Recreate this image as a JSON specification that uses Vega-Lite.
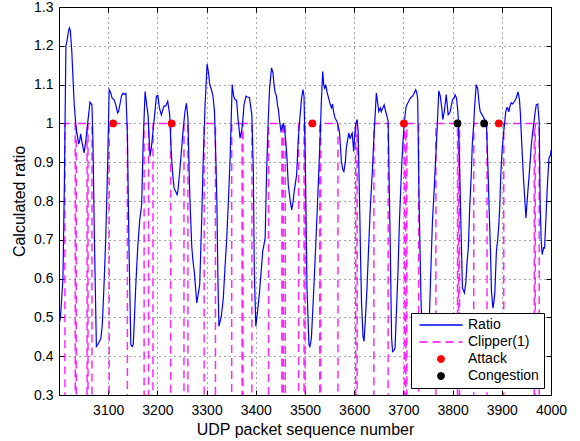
{
  "$schema": "https://vega.github.io/schema/vega-lite/v6.json",
  "width": 492,
  "height": 388,
  "autosize": {"type": "none"},
  "padding": {"left": 59, "top": 7, "right": 29, "bottom": 46},
  "background": "white",
  "config": {
    "font": "Liberation Sans",
    "view": {"stroke": "black", "strokeWidth": 1},
    "axis": {
      "labelFont": "Liberation Sans", "labelFontSize": 14, "labelColor": "#000", "labelFlush": false,
      "titleFont": "Liberation Sans", "titleFontSize": 16, "titleFontWeight": "normal", "titleColor": "#000",
      "domainColor": "#000", "tickColor": "#000", "gridColor": "#000", "gridDash": [1, 4], "gridOpacity": 0.7
    }
  },
  "datasets": {
    "ratio": [
      {"x":3000,"y":0.48},{"x":3003,"y":0.5},{"x":3008,"y":0.6},{"x":3011,"y":0.85},{"x":3014,"y":1.2},{"x":3016,"y":1.21},{"x":3019,"y":1.235},{"x":3021,"y":1.246},{"x":3023,"y":1.24},{"x":3026,"y":1.186},{"x":3029,"y":1.1},{"x":3031,"y":1.048},{"x":3034,"y":1.0},{"x":3036,"y":0.979},{"x":3040,"y":0.947},{"x":3042,"y":0.955},{"x":3044,"y":0.973},{"x":3047,"y":0.95},{"x":3051,"y":0.924},{"x":3054,"y":0.95},{"x":3058,"y":0.997},{"x":3063,"y":1.055},{"x":3067,"y":1.048},{"x":3069,"y":0.954},{"x":3072,"y":0.7},{"x":3076,"y":0.425},{"x":3079,"y":0.43},{"x":3082,"y":0.438},{"x":3085,"y":0.445},{"x":3088,"y":0.481},{"x":3092,"y":0.6},{"x":3095,"y":0.705},{"x":3099,"y":0.9},{"x":3102,"y":1.087},{"x":3105,"y":1.08},{"x":3108,"y":1.065},{"x":3112,"y":1.061},{"x":3116,"y":1.045},{"x":3119,"y":1.027},{"x":3121,"y":1.03},{"x":3124,"y":1.05},{"x":3127,"y":1.07},{"x":3130,"y":1.078},{"x":3133,"y":1.075},{"x":3136,"y":1.077},{"x":3139,"y":0.971},{"x":3142,"y":0.7},{"x":3146,"y":0.43},{"x":3149,"y":0.425},{"x":3151,"y":0.43},{"x":3156,"y":0.58},{"x":3160,"y":0.68},{"x":3164,"y":0.75},{"x":3168,"y":0.79},{"x":3171,"y":0.95},{"x":3175,"y":1.082},{"x":3178,"y":1.05},{"x":3181,"y":1.022},{"x":3185,"y":0.915},{"x":3188,"y":0.94},{"x":3191,"y":0.979},{"x":3195,"y":1.03},{"x":3198,"y":1.07},{"x":3201,"y":1.072},{"x":3204,"y":1.04},{"x":3208,"y":1.022},{"x":3211,"y":1.035},{"x":3213,"y":1.044},{"x":3217,"y":1.045},{"x":3221,"y":1.057},{"x":3225,"y":1.022},{"x":3228,"y":0.928},{"x":3231,"y":0.87},{"x":3234,"y":0.833},{"x":3237,"y":0.825},{"x":3240,"y":0.816},{"x":3242,"y":0.829},{"x":3247,"y":0.9},{"x":3252,"y":0.979},{"x":3256,"y":1.03},{"x":3259,"y":1.052},{"x":3262,"y":1.014},{"x":3265,"y":0.85},{"x":3267,"y":0.773},{"x":3270,"y":0.68},{"x":3272,"y":0.649},{"x":3275,"y":0.618},{"x":3278,"y":0.57},{"x":3280,"y":0.537},{"x":3283,"y":0.56},{"x":3286,"y":0.584},{"x":3290,"y":0.75},{"x":3293,"y":0.902},{"x":3297,"y":1.05},{"x":3301,"y":1.153},{"x":3304,"y":1.13},{"x":3306,"y":1.104},{"x":3309,"y":1.09},{"x":3311,"y":1.081},{"x":3313,"y":1.07},{"x":3316,"y":1.031},{"x":3319,"y":0.9},{"x":3321,"y":0.79},{"x":3323,"y":0.6},{"x":3325,"y":0.477},{"x":3330,"y":0.503},{"x":3334,"y":0.55},{"x":3337,"y":0.62},{"x":3341,"y":0.705},{"x":3345,"y":0.82},{"x":3348,"y":0.919},{"x":3352,"y":1.1},{"x":3355,"y":1.07},{"x":3358,"y":1.061},{"x":3361,"y":1.06},{"x":3364,"y":1.01},{"x":3368,"y":0.962},{"x":3371,"y":0.98},{"x":3373,"y":0.997},{"x":3376,"y":1.048},{"x":3380,"y":1.07},{"x":3383,"y":1.068},{"x":3387,"y":1.067},{"x":3392,"y":1.022},{"x":3395,"y":0.876},{"x":3397,"y":0.619},{"x":3400,"y":0.477},{"x":3404,"y":0.52},{"x":3407,"y":0.558},{"x":3411,"y":0.62},{"x":3414,"y":0.67},{"x":3417,"y":0.69},{"x":3419,"y":0.705},{"x":3422,"y":0.876},{"x":3425,"y":1.0},{"x":3428,"y":1.091},{"x":3432,"y":1.143},{"x":3435,"y":1.13},{"x":3437,"y":1.1},{"x":3439,"y":1.082},{"x":3442,"y":1.07},{"x":3444,"y":1.048},{"x":3446,"y":1.035},{"x":3448,"y":1.01},{"x":3451,"y":0.981},{"x":3454,"y":0.99},{"x":3456,"y":1.001},{"x":3459,"y":0.98},{"x":3461,"y":0.95},{"x":3463,"y":0.919},{"x":3466,"y":0.842},{"x":3470,"y":0.8},{"x":3473,"y":0.777},{"x":3476,"y":0.8},{"x":3478,"y":0.825},{"x":3481,"y":0.85},{"x":3483,"y":0.868},{"x":3486,"y":0.95},{"x":3489,"y":1.005},{"x":3493,"y":1.065},{"x":3496,"y":1.087},{"x":3498,"y":1.07},{"x":3501,"y":0.876},{"x":3504,"y":0.576},{"x":3508,"y":0.43},{"x":3510,"y":0.425},{"x":3513,"y":0.447},{"x":3517,"y":0.55},{"x":3521,"y":0.662},{"x":3525,"y":0.78},{"x":3528,"y":0.876},{"x":3531,"y":0.97},{"x":3533,"y":1.048},{"x":3536,"y":1.134},{"x":3538,"y":1.1},{"x":3540,"y":1.091},{"x":3542,"y":1.1},{"x":3545,"y":1.08},{"x":3548,"y":1.065},{"x":3551,"y":1.05},{"x":3554,"y":1.04},{"x":3556,"y":1.05},{"x":3558,"y":1.03},{"x":3561,"y":1.014},{"x":3565,"y":1.005},{"x":3570,"y":0.979},{"x":3574,"y":0.902},{"x":3577,"y":0.88},{"x":3579,"y":0.876},{"x":3582,"y":0.9},{"x":3584,"y":0.937},{"x":3587,"y":0.96},{"x":3589,"y":0.975},{"x":3592,"y":0.96},{"x":3594,"y":0.97},{"x":3596,"y":0.975},{"x":3599,"y":0.928},{"x":3601,"y":0.97},{"x":3603,"y":0.997},{"x":3606,"y":1.01},{"x":3608,"y":0.98},{"x":3611,"y":0.79},{"x":3613,"y":0.65},{"x":3615,"y":0.533},{"x":3618,"y":0.45},{"x":3620,"y":0.438},{"x":3623,"y":0.5},{"x":3626,"y":0.576},{"x":3630,"y":0.7},{"x":3633,"y":0.79},{"x":3637,"y":0.88},{"x":3640,"y":0.962},{"x":3645,"y":1.078},{"x":3648,"y":1.05},{"x":3650,"y":1.031},{"x":3653,"y":1.04},{"x":3655,"y":1.03},{"x":3658,"y":1.04},{"x":3661,"y":1.048},{"x":3664,"y":1.03},{"x":3666,"y":1.022},{"x":3669,"y":1.005},{"x":3673,"y":0.705},{"x":3676,"y":0.447},{"x":3678,"y":0.412},{"x":3681,"y":0.415},{"x":3683,"y":0.421},{"x":3686,"y":0.52},{"x":3689,"y":0.619},{"x":3692,"y":0.75},{"x":3696,"y":0.876},{"x":3699,"y":0.95},{"x":3702,"y":1.005},{"x":3705,"y":1.04},{"x":3707,"y":1.048},{"x":3710,"y":1.055},{"x":3714,"y":1.065},{"x":3718,"y":1.07},{"x":3721,"y":1.075},{"x":3725,"y":1.087},{"x":3727,"y":1.08},{"x":3729,"y":1.065},{"x":3732,"y":0.79},{"x":3736,"y":0.533},{"x":3740,"y":0.42},{"x":3744,"y":0.38},{"x":3748,"y":0.4},{"x":3753,"y":0.507},{"x":3756,"y":0.63},{"x":3759,"y":0.747},{"x":3763,"y":0.84},{"x":3766,"y":0.919},{"x":3769,"y":1.0},{"x":3772,"y":1.084},{"x":3775,"y":1.07},{"x":3778,"y":1.04},{"x":3780,"y":1.01},{"x":3783,"y":1.03},{"x":3785,"y":1.05},{"x":3787,"y":1.074},{"x":3789,"y":1.05},{"x":3791,"y":1.022},{"x":3793,"y":1.025},{"x":3795,"y":1.03},{"x":3798,"y":1.05},{"x":3800,"y":1.061},{"x":3803,"y":1.065},{"x":3805,"y":1.074},{"x":3808,"y":1.065},{"x":3810,"y":1.04},{"x":3812,"y":1.005},{"x":3814,"y":0.9},{"x":3816,"y":0.79},{"x":3818,"y":0.68},{"x":3820,"y":0.576},{"x":3824,"y":0.563},{"x":3827,"y":0.59},{"x":3829,"y":0.636},{"x":3832,"y":0.68},{"x":3835,"y":0.79},{"x":3838,"y":0.87},{"x":3840,"y":0.945},{"x":3843,"y":1.0},{"x":3845,"y":1.048},{"x":3848,"y":1.1},{"x":3851,"y":1.09},{"x":3854,"y":1.05},{"x":3856,"y":1.031},{"x":3860,"y":1.022},{"x":3863,"y":1.015},{"x":3865,"y":1.01},{"x":3869,"y":0.99},{"x":3872,"y":0.88},{"x":3874,"y":0.79},{"x":3877,"y":0.67},{"x":3879,"y":0.567},{"x":3882,"y":0.524},{"x":3884,"y":0.54},{"x":3886,"y":0.567},{"x":3889,"y":0.67},{"x":3892,"y":0.705},{"x":3894,"y":0.74},{"x":3896,"y":0.79},{"x":3898,"y":0.87},{"x":3901,"y":0.937},{"x":3904,"y":0.98},{"x":3906,"y":1.005},{"x":3908,"y":1.03},{"x":3910,"y":1.04},{"x":3912,"y":1.04},{"x":3914,"y":1.03},{"x":3917,"y":1.045},{"x":3919,"y":1.053},{"x":3922,"y":1.05},{"x":3926,"y":1.057},{"x":3929,"y":1.065},{"x":3933,"y":1.081},{"x":3936,"y":1.06},{"x":3938,"y":1.02},{"x":3940,"y":0.962},{"x":3942,"y":0.91},{"x":3944,"y":0.859},{"x":3947,"y":0.8},{"x":3949,"y":0.756},{"x":3951,"y":0.79},{"x":3953,"y":0.825},{"x":3957,"y":0.89},{"x":3960,"y":0.945},{"x":3963,"y":0.98},{"x":3966,"y":1.01},{"x":3968,"y":1.03},{"x":3970,"y":1.048},{"x":3973,"y":1.05},{"x":3976,"y":1.005},{"x":3978,"y":0.79},{"x":3980,"y":0.7},{"x":3982,"y":0.662},{"x":3985,"y":0.68},{"x":3987,"y":0.679},{"x":3990,"y":0.765},{"x":3993,"y":0.85},{"x":3996,"y":0.911},{"x":3999,"y":0.919},{"x":4000,"y":0.93}
    ],
    "clipper": [
      {"i":0,"x":3000,"y":0},{"i":1,"x":3012,"y":0},{"i":2,"x":3012,"y":1},{"i":3,"x":3033,"y":1},{"i":4,"x":3033,"y":0},{"i":5,"x":3035,"y":0},{"i":6,"x":3035,"y":1},{"i":7,"x":3057,"y":1},{"i":8,"x":3057,"y":0},{"i":9,"x":3059,"y":0},{"i":10,"x":3059,"y":1},{"i":11,"x":3067,"y":1},{"i":12,"x":3067,"y":0},
      {"i":13,"x":3102,"y":0},{"i":14,"x":3102,"y":1},{"i":15,"x":3139,"y":1},{"i":16,"x":3139,"y":0},
      {"i":17,"x":3173,"y":0},{"i":18,"x":3173,"y":1},{"i":19,"x":3182,"y":1},{"i":20,"x":3182,"y":0},{"i":21,"x":3191,"y":0},{"i":22,"x":3191,"y":1},{"i":23,"x":3227,"y":1},{"i":24,"x":3227,"y":0},
      {"i":25,"x":3254,"y":0},{"i":26,"x":3254,"y":1},{"i":27,"x":3262,"y":1},{"i":28,"x":3262,"y":0},
      {"i":29,"x":3295,"y":0},{"i":30,"x":3295,"y":1},{"i":31,"x":3318,"y":1},{"i":32,"x":3318,"y":0},
      {"i":33,"x":3351,"y":0},{"i":34,"x":3351,"y":1},{"i":35,"x":3372,"y":1},{"i":36,"x":3372,"y":0},{"i":37,"x":3374,"y":0},{"i":38,"x":3374,"y":1},{"i":39,"x":3392,"y":1},{"i":40,"x":3392,"y":0},
      {"i":41,"x":3426,"y":0},{"i":42,"x":3426,"y":1},{"i":43,"x":3453,"y":1},{"i":44,"x":3453,"y":0},{"i":45,"x":3456,"y":0},{"i":46,"x":3456,"y":1},{"i":47,"x":3460,"y":1},{"i":48,"x":3460,"y":0},
      {"i":49,"x":3487,"y":0},{"i":50,"x":3487,"y":1},{"i":51,"x":3498,"y":1},{"i":52,"x":3498,"y":0},{"i":53,"x":3500,"y":0},{"i":54,"x":3500,"y":1},{"i":55,"x":3530,"y":1},{"i":56,"x":3530,"y":0},{"i":57,"x":3532,"y":0},{"i":58,"x":3532,"y":1},{"i":59,"x":3567,"y":1},{"i":60,"x":3567,"y":0},
      {"i":61,"x":3603,"y":0},{"i":62,"x":3603,"y":1},{"i":63,"x":3606,"y":1},{"i":64,"x":3606,"y":0},
      {"i":65,"x":3640,"y":0},{"i":66,"x":3640,"y":1},{"i":67,"x":3669,"y":1},{"i":68,"x":3669,"y":0},
      {"i":69,"x":3702,"y":0},{"i":70,"x":3702,"y":1},{"i":71,"x":3705,"y":1},{"i":72,"x":3705,"y":0},{"i":73,"x":3707,"y":0},{"i":74,"x":3707,"y":1},{"i":75,"x":3731,"y":1},{"i":76,"x":3731,"y":0},
      {"i":77,"x":3766,"y":0},{"i":78,"x":3766,"y":1},{"i":79,"x":3810,"y":1},{"i":80,"x":3810,"y":0},{"i":81,"x":3812,"y":0},{"i":82,"x":3812,"y":1},{"i":83,"x":3814,"y":1},{"i":84,"x":3814,"y":0},
      {"i":85,"x":3843,"y":0},{"i":86,"x":3843,"y":1},{"i":87,"x":3870,"y":1},{"i":88,"x":3870,"y":0},
      {"i":89,"x":3904,"y":0},{"i":90,"x":3904,"y":1},{"i":91,"x":3966,"y":1},{"i":92,"x":3966,"y":0},{"i":93,"x":3968,"y":0},{"i":94,"x":3968,"y":1},{"i":95,"x":3976,"y":1},{"i":96,"x":3976,"y":0},{"i":97,"x":4000,"y":0}
    ],
    "attack": [
      {"x":3110,"y":1},{"x":3229,"y":1},{"x":3515,"y":1},{"x":3701,"y":1},{"x":3894,"y":1}
    ],
    "congestion": [
      {"x":3810,"y":1},{"x":3864,"y":1}
    ]
  },
  "layer": [
    {
      "data": {"name": "clipper"},
      "mark": {"type": "line", "clip": true, "strokeDash": [8, 5], "strokeWidth": 1.5, "opacity": 0.85},
      "encoding": {
        "x": {"field": "x", "type": "quantitative", "scale": {"domain": [3000, 4000], "nice": false, "zero": false},
          "axis": {"values": [3000,3100,3200,3300,3400,3500,3600,3700,3800,3900,4000], "labelExpr": "datum.value == 3000 ? '' : datum.label", "title": "UDP packet sequence number", "grid": true, "tickSize": -5, "labelPadding": 13, "titlePadding": 4, "format": "d"}},
        "y": {"field": "y", "type": "quantitative", "scale": {"domain": [0.3, 1.3], "nice": false, "zero": false},
          "axis": {"values": [0.3,0.4,0.5,0.6,0.7,0.8,0.9,1.0,1.1,1.2,1.3], "format": ".1~f", "title": "Calculated ratio", "grid": true, "tickSize": -5, "labelPadding": 11, "titlePadding": 6}},
        "order": {"field": "i", "type": "quantitative"},
        "color": {"datum": "Clipper(1)", "type": "nominal",
          "scale": {"domain": ["Ratio", "Clipper(1)", "Attack", "Congestion"], "range": ["#0000FF", "#FF00FF", "#FF0000", "#000000"]},
          "legend": {
            "title": null, "orient": "bottom-right", "offset": 7, "padding": 5,
            "strokeColor": "#000", "fillColor": "#fff",
            "labelFont": "Liberation Sans", "labelFontSize": 14, "labelColor": "#000",
            "symbolType": {"expr": "datum.value == 'Attack' || datum.value == 'Congestion' ? 'circle' : 'M-4.3,0H4.3'"},
            "symbolSize": {"expr": "datum.value == 'Attack' || datum.value == 'Congestion' ? 40 : 100"},
            "symbolDash": {"expr": "datum.value == 'Clipper(1)' ? [8, 5] : [1, 0]"},
            "symbolStrokeWidth": 1.5, "symbolOpacity": 1,
            "symbolOffset": 18, "labelOffset": 20, "rowPadding": 3
          }}
      }
    },
    {
      "data": {"name": "ratio"},
      "mark": {"type": "line", "clip": true, "strokeWidth": 1.2},
      "encoding": {
        "x": {"field": "x", "type": "quantitative", "axis": null},
        "y": {"field": "y", "type": "quantitative", "axis": null},
        "color": {"datum": "Ratio", "type": "nominal"}
      }
    },
    {
      "data": {"name": "attack"},
      "mark": {"type": "point", "filled": true, "size": 60, "opacity": 1},
      "encoding": {
        "x": {"field": "x", "type": "quantitative", "axis": null},
        "y": {"field": "y", "type": "quantitative", "axis": null},
        "color": {"datum": "Attack", "type": "nominal"}
      }
    },
    {
      "data": {"name": "congestion"},
      "mark": {"type": "point", "filled": true, "size": 60, "opacity": 1},
      "encoding": {
        "x": {"field": "x", "type": "quantitative",
          "axis": {"orient": "top", "values": [3000,3100,3200,3300,3400,3500,3600,3700,3800,3900,4000], "labels": false, "title": null, "grid": false, "domain": false, "tickSize": -5}},
        "y": {"field": "y", "type": "quantitative",
          "axis": {"orient": "right", "values": [0.3,0.4,0.5,0.6,0.7,0.8,0.9,1.0,1.1,1.2,1.3], "labels": false, "title": null, "grid": false, "domain": false, "tickSize": -5}},
        "color": {"datum": "Congestion", "type": "nominal"}
      }
    }
  ],
  "resolve": {"axis": {"x": "independent", "y": "independent"}}
}
